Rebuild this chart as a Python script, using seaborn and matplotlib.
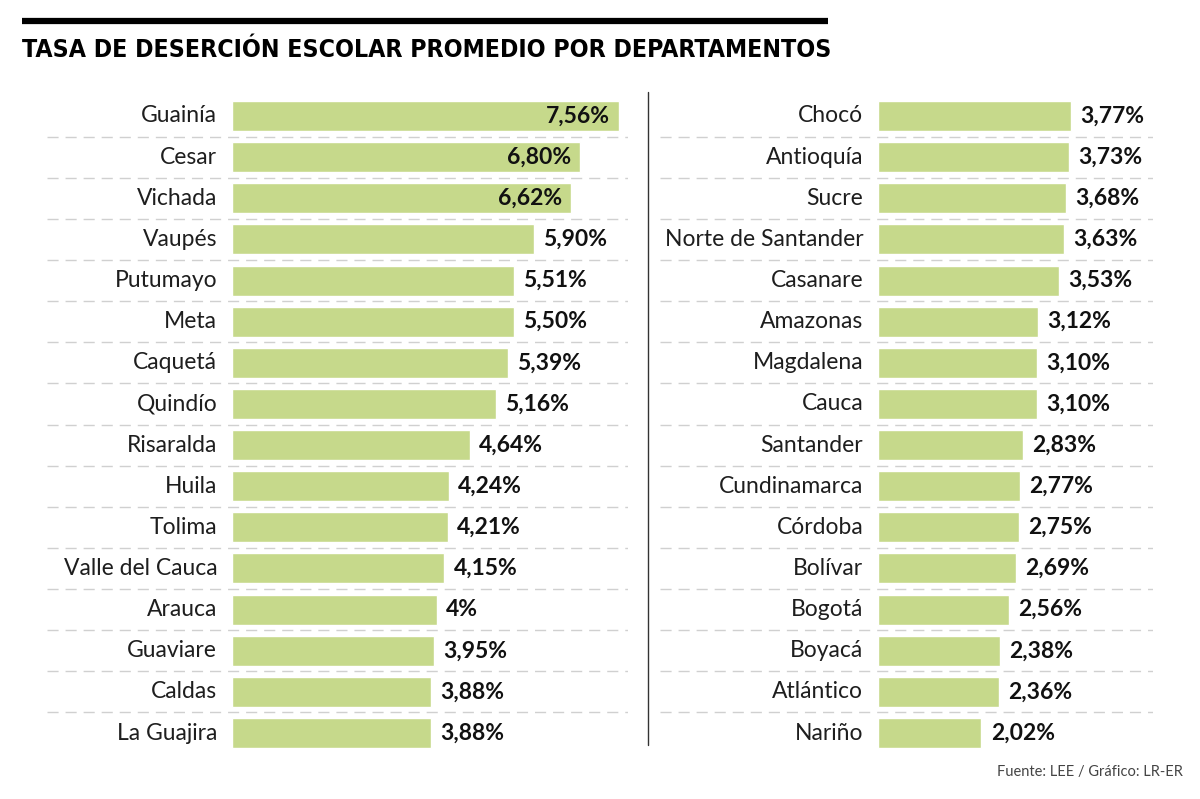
import matplotlib
matplotlib.use("Agg")
import matplotlib.pyplot as plt
import seaborn as sns
from matplotlib.lines import Line2D

# datos
left_names = ["Guainía", "Cesar", "Vichada", "Vaupés", "Putumayo", "Meta", "Caquetá",
              "Quindío", "Risaralda", "Huila", "Tolima", "Valle del Cauca", "Arauca",
              "Guaviare", "Caldas", "La Guajira"]
left_vals = [7.56, 6.80, 6.62, 5.90, 5.51, 5.50, 5.39, 5.16, 4.64, 4.24, 4.21, 4.15,
             4.00, 3.95, 3.88, 3.88]
left_labels = ["7,56%", "6,80%", "6,62%", "5,90%", "5,51%", "5,50%", "5,39%", "5,16%",
               "4,64%", "4,24%", "4,21%", "4,15%", "4%", "3,95%", "3,88%", "3,88%"]

right_names = ["Chocó", "Antioquía", "Sucre", "Norte de Santander", "Casanare", "Amazonas",
               "Magdalena", "Cauca", "Santander", "Cundinamarca", "Córdoba", "Bolívar",
               "Bogotá", "Boyacá", "Atlántico", "Nariño"]
right_vals = [3.77, 3.73, 3.68, 3.63, 3.53, 3.12, 3.10, 3.10, 2.83, 2.77, 2.75, 2.69,
              2.56, 2.38, 2.36, 2.02]
right_labels = ["3,77%", "3,73%", "3,68%", "3,63%", "3,53%", "3,12%", "3,10%", "3,10%",
                "2,83%", "2,77%", "2,75%", "2,69%", "2,56%", "2,38%", "2,36%", "2,02%"]

sns.set_style("white")
plt.rcParams['font.family'] = ['Lato', 'DejaVu Sans']

GREEN = "#c6d98b"
W, H = 1200, 799
fig = plt.figure(figsize=(12, 7.99), dpi=100)

px_unit = 51.2  # pixeles por punto porcentual


def panel(x0, x1, zero, names, vals, labels, inside):
    bottom = 1 - 753.6 / H
    top = 1 - 95.4 / H
    ax = fig.add_axes([x0 / W, bottom, (x1 - x0) / W, top - bottom])
    sns.barplot(x=vals, y=names, ax=ax, color=GREEN, saturation=1, width=0.73,
                orient="h")
    ax.set_xlim(-(zero - x0) / px_unit, (x1 - zero) / px_unit)
    ax.set_ylim(15.5, -0.5)
    ax.axis("off")
    for i in range(15):
        ax.axhline(i + 0.5, color="#d0d0d0", lw=1, ls=(0, (8, 5)), zorder=0)
    for i, (n, v, l) in enumerate(zip(names, vals, labels)):
        ax.text(-0.29, i, n, ha="right", va="center", fontsize=16.5,
                color="#1e1e1e")
        if i < inside:
            ax.text(v - 0.18, i, l, ha="right", va="center", fontsize=16.5,
                    fontweight="bold", color="#111111")
        else:
            ax.text(v + 0.18, i, l, ha="left", va="center", fontsize=16.5,
                    fontweight="bold", color="#111111")
    return ax


panel(47, 628, 232, left_names, left_vals, left_labels, 3)
panel(660, 1153, 878, right_names, right_vals, right_labels, 0)

# linea separadora y barra superior
fig.add_artist(Line2D([648 / W, 648 / W], [1 - 92 / H, 1 - 745 / H], color="#333333", lw=1))
fig.add_artist(Line2D([22 / W, 828 / W], [1 - 21 / H, 1 - 21 / H], color="black", lw=4.5,
                      solid_capstyle="butt"))

fig.text(22 / W, 1 - 50 / H, "TASA DE DESERCIÓN ESCOLAR PROMEDIO POR DEPARTAMENTOS",
         ha="left", va="center", fontsize=17.8, fontweight="bold", fontstretch="condensed",
         family=["DejaVu Sans"], color="black")
fig.text(1183 / W, 1 - 772 / H, "Fuente: LEE / Gráfico: LR-ER", ha="right", va="center",
         fontsize=10.5, color="#444444")

plt.savefig("out.png", dpi=100)
